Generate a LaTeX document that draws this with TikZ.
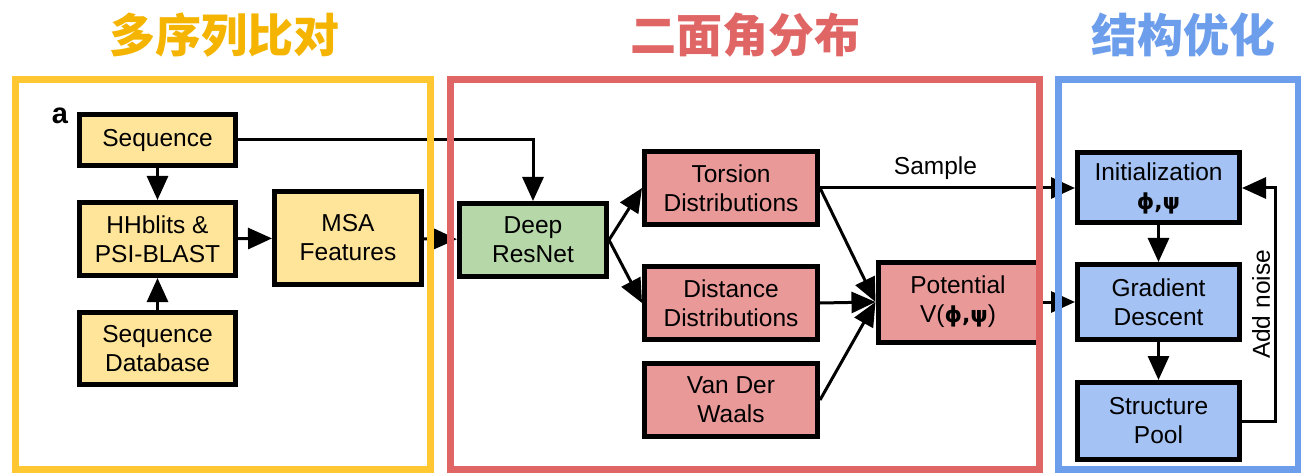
\documentclass[tikz,border=0pt]{standalone}
\usepackage{fontspec}
\setmainfont{Liberation Sans}
\newfontfamily\cjk{Noto Sans CJK SC}
\newfontfamily\grk{DejaVu Sans}
\usetikzlibrary{arrows.meta}
\definecolor{tyel}{HTML}{F4B400}
\definecolor{fyel}{HTML}{FFC832}
\definecolor{tred}{HTML}{E06666}
\definecolor{tblue}{HTML}{6D9EEB}
\definecolor{byel}{HTML}{FFE599}
\definecolor{bred}{HTML}{EA9999}
\definecolor{bgreen}{HTML}{B6D7A8}
\definecolor{bblue}{HTML}{A4C2F4}
\newcommand{\phipsi}{{\grk\bfseries\fontsize{22}{29}\selectfont ϕ,ψ}}
\tikzset{
  box/.style={draw=black, line width=5pt, inner sep=0pt, align=center,
    font=\fontsize{24.5}{29}\selectfont},
  ybox/.style={box, fill=byel},
  rbox/.style={box, fill=bred},
  gbox/.style={box, fill=bgreen},
  bbox/.style={box, fill=bblue},
  conn/.style={line width=3pt, -{Triangle[length=24pt,width=21pt]}},
  frame/.style={line width=7pt},
  ttl/.style={font=\cjk\bfseries\fontsize{46}{50}\selectfont},
  lbl/.style={font=\fontsize{24.5}{29}\selectfont}
}
\begin{document}
\begin{tikzpicture}[x=1pt,y=-1pt]
\useasboundingbox (0,0) rectangle (1301,473);
% titles
\node[ttl, text=tyel] (t1) at (224,35) {多序列比对};
\node[ttl, text=tred] (t2) at (745,35) {二面角分布};
\node[ttl, text=tblue] (t3) at (1183,35) {结构优化};
% label a
\node[font=\bfseries\fontsize{29}{30}\selectfont] (lbla) at (60,116) {a};
% left boxes
\node[ybox, minimum width=156pt, minimum height=51pt] (seq) at (157.5,140) {Sequence};
\node[ybox, minimum width=156pt, minimum height=73pt] (hh) at (157.5,239) {HHblits \&\\PSI-BLAST};
\node[ybox, minimum width=156pt, minimum height=72pt] (db) at (157.5,348.5) {Sequence\\Database};
\node[ybox, minimum width=147pt, minimum height=93pt] (msa) at (348,238) {MSA\\Features};
% middle boxes
\node[gbox, minimum width=147pt, minimum height=73pt] (res) at (533,240) {Deep\\ResNet};
\node[rbox, minimum width=173pt, minimum height=73pt] (tor) at (731,188) {Torsion\\Distributions};
\node[rbox, minimum width=173pt, minimum height=73pt] (dist) at (731,303) {Distance\\Distributions};
\node[rbox, minimum width=173pt, minimum height=73pt] (vdw) at (731,400) {Van Der\\Waals};
\node[rbox, minimum width=160pt, minimum height=80pt] (pot) at (958,302) {Potential\\V(\phipsi)};
% right boxes
\node[bbox, minimum width=162pt, minimum height=70pt] (init) at (1158.5,188) {Initialization\\\phipsi};
\node[bbox, minimum width=162pt, minimum height=75pt] (grad) at (1158.5,302) {Gradient\\Descent};
\node[bbox, minimum width=162pt, minimum height=77pt] (pool) at (1158.5,421) {Structure\\Pool};
% connectors
\draw[conn] (seq) -- (hh);
\draw[conn] (db) -- (hh);
\draw[conn] (hh) -- (msa);
\draw[conn] (msa) -- (res);
\draw[conn] (seq.east) -| (res.north);
\draw[conn] (res.east) -- (tor.west);
\draw[conn] (res.east) -- (dist.west);
\draw[conn] (tor.east) -- (pot.west);
\draw[conn] (dist.east) -- (pot.west);
\draw[conn] (vdw.east) -- (pot.west);
\draw[conn] (tor.east) -- node[above, lbl, yshift=4pt, xshift=-12pt] (smp) {Sample} (init.west);
\draw[conn] (pot.east) -- (grad.west);
\draw[conn] (init) -- (grad);
\draw[conn] (grad) -- (pool);
\coordinate (lx) at (1275,0);
\draw[conn] (pool.east) -- (pool.east -| lx) -- node[above, rotate=90, lbl] (noise) {Add noise} (init.east -| lx) -- (init.east);
% frames
\draw[frame, fyel] (15.5,80) rectangle (430.5,469.5);
\draw[frame, tred] (450,80) rectangle (1039,469.5);
\draw[frame, tblue] (1058,80) rectangle (1298,469.5);
\end{tikzpicture}
\end{document}
